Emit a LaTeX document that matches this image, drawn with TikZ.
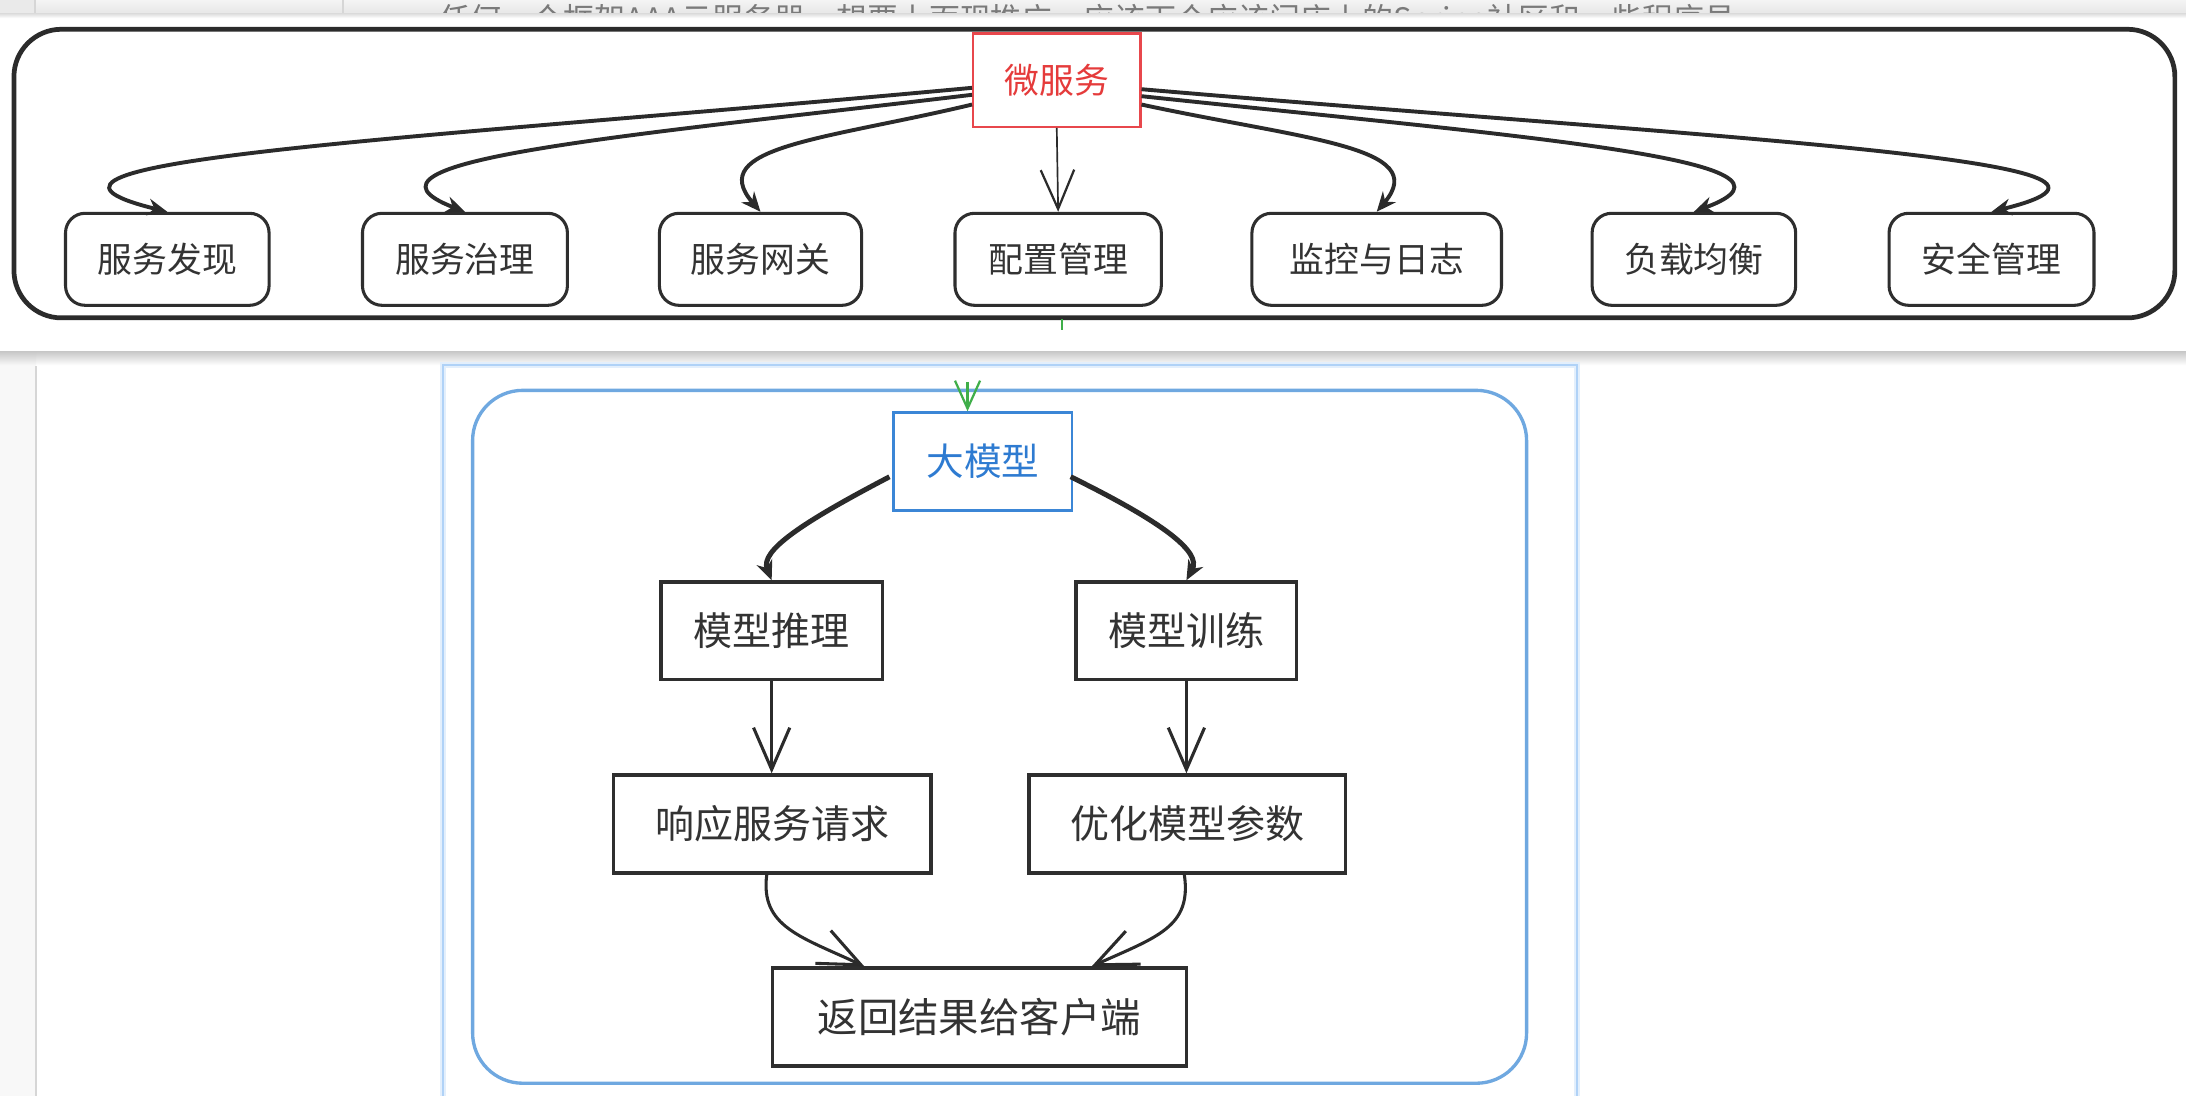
\documentclass[tikz,border=0pt]{standalone}
\usepackage{fontspec}
\setmainfont{Noto Sans CJK SC}
\usetikzlibrary{arrows.meta,calc}
\definecolor{stripA}{HTML}{F4F4F4}
\definecolor{stripB}{HTML}{E4E4E4}
\definecolor{stripL}{HTML}{EAEAEA}
\definecolor{linegray}{HTML}{D6D6D6}
\definecolor{gutter}{HTML}{F8F8F8}
\definecolor{striptxt}{HTML}{7A7A7A}
\definecolor{panelblack}{HTML}{2B2B2B}
\definecolor{boxblack}{HTML}{2E2E2E}
\definecolor{txtgray}{HTML}{333333}
\definecolor{msred}{HTML}{E8474C}
\definecolor{mstxt}{HTML}{E53B3B}
\definecolor{dmblue}{HTML}{3B86D6}
\definecolor{dmtxt}{HTML}{2E7BD1}
\definecolor{cblue}{HTML}{6FA8E0}
\definecolor{frameblue}{HTML}{B0D2F7}
\definecolor{frameglow}{HTML}{E3EFFC}
\definecolor{grn}{HTML}{3FAE49}
\begin{document}
\begin{tikzpicture}[x=0.5pt,y=-0.5pt,
  tbox/.style={draw=boxblack, line width=1.1pt, rounded corners=7pt,
    minimum height=33pt, text=txtgray, inner sep=0pt,
    font=\fontsize{12.5}{14}\selectfont},
  bbox/.style={draw=boxblack, line width=1.3pt, minimum height=35pt,
    text=txtgray, inner sep=0pt, font=\fontsize{14}{16}\selectfont},
  tarrow/.style={draw=panelblack, line width=1.4pt,
    -{Stealth[length=7pt,width=6pt]}},
  thickarrow/.style={draw=panelblack, line width=1.8pt,
    -{Stealth[length=7pt,width=6pt]}},
  thinarrow/.style={draw=panelblack, line width=0.6pt,
    -{Straight Barb[length=14pt,width=12pt,line width=0.8pt]}},
  barbarrow/.style={draw=panelblack, line width=1.1pt,
    -{Straight Barb[length=15pt,width=13pt]}},
  garrow/.style={draw=grn, line width=0.8pt,
    -{Straight Barb[length=10pt,width=9pt]}}]
\useasboundingbox (0,0) rectangle (1568,786);
\fill[white] (0,0) rectangle (1568,786);
% top browser strip
\shade[top color=stripA, bottom color=stripB] (0,0) rectangle (1568,12);
\fill[stripL] (0,0) rectangle (25,12);
\draw[linegray, line width=0.6pt] (25,0) -- (25,12) (246,0) -- (246,12);
\node[anchor=north west, inner sep=0pt, text=striptxt,
  font=\fontsize{11.1}{12}\selectfont] (strip) at (315,3)
  {任何一个框架AAA云服务器，想要上面现推广，应该下个应该门店上的Spring社区和一些程序员};
% lower page
\fill[gutter] (0,252) rectangle (26,786);
\draw[linegray, line width=0.6pt] (26,252) -- (26,786);
\shade[top color=black!22, bottom color=white] (26,252) rectangle (1568,262);
\shade[top color=black!22, bottom color=gutter] (0,252) rectangle (26,262);
% top panel
\fill[white] (0,11) rectangle (1568,252);
\shade[top color=black!12, bottom color=white] (0,10) rectangle (1568,13);
% blue frame
\fill[white] (318,262) rectangle (1131,786);
\draw[frameglow, line width=2.2pt] (318,786) -- (318,262) -- (1131,262) -- (1131,786);
\draw[frameblue, line width=0.8pt] (318,786) -- (318,262) -- (1131,262) -- (1131,786);
\draw[cblue, line width=1.2pt, rounded corners=18pt] (339,280) rectangle (1095,777);
% top container
\draw[panelblack, line width=1.7pt, rounded corners=17pt] (10,21) rectangle (1560,228);
% top nodes
\node[draw=msred, line width=0.8pt, minimum width=60pt, minimum height=33.5pt,
  inner sep=0pt, text=mstxt, font=\fontsize{12.5}{14}\selectfont] (ms) at (758,57.5) {微服务};
\node[tbox, minimum width=73pt] (c1) at (120,186) {服务发现};
\node[tbox, minimum width=73.5pt] (c2) at (333.5,186) {服务治理};
\node[tbox, minimum width=72.5pt] (c3) at (545.5,186) {服务网关};
\node[tbox, minimum width=74pt] (c4) at (759,186) {配置管理};
\node[tbox, minimum width=89.5pt] (c5) at (987.5,186) {监控与日志};
\node[tbox, minimum width=73pt] (c6) at (1215,186) {负载均衡};
\node[tbox, minimum width=73.5pt] (c7) at (1428.5,186) {安全管理};
% top connectors
\draw[tarrow] ($(ms.west)+(0,5.5)$) .. controls (300,100) and (-30,115) .. (c1.north);
\draw[tarrow] ($(ms.west)+(0,10.5)$) .. controls (447,98) and (238,115) .. (c2.north);
\draw[tarrow] ($(ms.west)+(0,17.5)$) .. controls (593,100) and (505,105) .. (c3.north);
\draw[thinarrow] (ms.south) -- (c4.north);
\draw[tarrow] ($(ms.east)+(0,17.5)$) .. controls (935,100) and (1027,105) .. (c5.north);
\draw[tarrow] ($(ms.east)+(0,11.5)$) .. controls (1092,98) and (1315,115) .. (c6.north);
\draw[tarrow] ($(ms.east)+(0,6.5)$) .. controls (1239,100) and (1578,115) .. (c7.north);
% green fragments
\coordinate (g1a) at (762,229);
\coordinate (g1b) at (762,237);
\draw[grn, line width=0.8pt] (g1a) -- (g1b);
% bottom nodes
\node[draw=dmblue, line width=1pt, minimum width=64pt, minimum height=35pt,
  inner sep=0pt, text=dmtxt, font=\fontsize{13.5}{15}\selectfont] (dm) at (705,331) {大模型};
\coordinate (g2) at (694,274);
\draw[garrow] (g2) -- (g2 |- dm.north);
\node[bbox, minimum width=79.5pt] (tl) at (553.5,452.5) {模型推理};
\node[bbox, minimum width=79pt] (xl) at (851,452.5) {模型训练};
\node[bbox, minimum width=114pt] (xy) at (554,591) {响应服务请求};
\node[bbox, minimum width=113.5pt] (yh) at (851.5,591) {优化模型参数};
\node[bbox, minimum width=148.5pt, font=\fontsize{14.5}{16}\selectfont] (fh) at (702.5,729.5) {返回结果给客户端};
% bottom connectors
\draw[thickarrow] ($(dm.west)+(-2,11)$) .. controls (575,375) and (545,395) .. (tl.north);
\draw[thickarrow] ($(dm.east)+(-2,11)$) .. controls (835,375) and (862,396) .. (xl.north);
\draw[barbarrow] (tl.south) -- (tl.south |- xy.north);
\draw[barbarrow] (xl.south) -- (xl.south |- yh.north);
\draw[barbarrow] ($(xy.south)+(-4,0)$) .. controls (545,665) and (575,672) .. ($(fh.north)+(-82.5,0)$);
\draw[barbarrow] ($(yh.south)+(-2,0)$) .. controls (855,665) and (830,672) .. ($(fh.north)+(80.5,0)$);
\end{tikzpicture}
\end{document}
